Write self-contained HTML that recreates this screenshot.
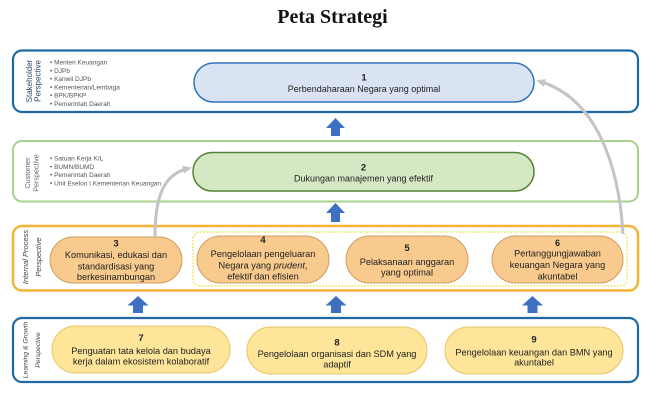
<!DOCTYPE html>
<html>
<head>
<meta charset="utf-8">
<style>
html,body{margin:0;padding:0;background:#fff;}
svg{display:block;}
text{font-family:"Liberation Sans",sans-serif;}
</style>
</head>
<body>
<svg width="661" height="414" viewBox="0 0 661 414" xmlns="http://www.w3.org/2000/svg">
<defs>
<marker id="gh" markerWidth="10" markerHeight="10" refX="5" refY="4" orient="auto" markerUnits="userSpaceOnUse">
<path d="M0,0 L9,4 L0,8 Z" fill="#c4c4c4"/>
</marker>
</defs>

<!-- Title -->
<text x="332.5" y="23" text-anchor="middle" style="font-family:'Liberation Serif',serif;font-weight:bold;font-size:20px;" fill="#111">Peta Strategi</text>

<!-- Perspective boxes -->
<rect x="13" y="50.5" width="625" height="61.5" rx="9" fill="#fff" stroke="#1f6aa5" stroke-width="2.2"/>
<rect x="13" y="141" width="625" height="60.5" rx="9" fill="#fff" stroke="#a9d18e" stroke-width="2"/>
<rect x="13" y="226" width="625" height="64.5" rx="9" fill="#fff" stroke="#f2b535" stroke-width="2.5"/>
<rect x="193" y="232" width="434" height="54" rx="7" fill="none" stroke="#f3e866" stroke-width="1.8" stroke-dasharray="1.6,1.6"/>
<rect x="13" y="318" width="625" height="64" rx="9" fill="#fff" stroke="#1f6aa5" stroke-width="2.2"/>

<!-- Vertical labels -->
<g fill="#2b4a6b" font-size="8">
<text transform="translate(32,81) rotate(-90)" text-anchor="middle">Stakeholder</text>
<text transform="translate(40.5,81) rotate(-90)" text-anchor="middle">Perspective</text>
</g>
<g fill="#666" font-size="7.2">
<text transform="translate(30,173) rotate(-90)" text-anchor="middle">Customer</text>
<text transform="translate(38.5,173) rotate(-90)" text-anchor="middle">Perspective</text>
</g>
<g fill="#444" font-size="7.5" font-style="italic">
<text transform="translate(28,257) rotate(-90)" text-anchor="middle">Internal Process</text>
<text transform="translate(41,257) rotate(-90)" text-anchor="middle">Perspective</text>
</g>
<g fill="#444" font-size="6.8" font-style="italic">
<text transform="translate(27.5,350) rotate(-90)" text-anchor="middle">Learning &amp; Growth</text>
<text transform="translate(40,350) rotate(-90)" text-anchor="middle">Perspective</text>
</g>

<!-- Lists -->
<g fill="#555" font-size="6.5">
<text x="50" y="64.5">• Menteri Keuangan</text>
<text x="50" y="72.8">• DJPb</text>
<text x="50" y="81">• Kanwil DJPb</text>
<text x="50" y="89.3">• Kementerian/Lembaga</text>
<text x="50" y="97.5">• BPK/BPKP</text>
<text x="50" y="105.8">• Pemerintah Daerah</text>
<text x="50" y="160.5">• Satuan Kerja K/L</text>
<text x="50" y="168.8">• BUMN/BUMD</text>
<text x="50" y="177">• Pemerintah Daerah</text>
<text x="50" y="185.3">• Unit Eselon I Kementerian Keuangan</text>
</g>

<!-- Nodes -->
<rect x="194" y="63" width="340" height="39" rx="19.5" fill="#dae3f3" stroke="#2e75b6" stroke-width="1.5"/>
<rect x="193" y="152.5" width="341" height="38.5" rx="19" fill="#d5e8c4" stroke="#548235" stroke-width="1.5"/>

<g fill="#f8ca8e" stroke="#cf9d5e" stroke-width="1">
<rect x="50" y="237" width="132" height="46" rx="23"/>
<rect x="197" y="236" width="132" height="47" rx="23.5"/>
<rect x="346" y="236" width="122" height="47" rx="23.5"/>
<rect x="492" y="236" width="131" height="47" rx="23.5"/>
</g>
<g fill="#fee599" stroke="#e6c566" stroke-width="1">
<rect x="52" y="326" width="178" height="47" rx="23.5"/>
<rect x="247" y="327" width="180" height="47" rx="23.5"/>
<rect x="445" y="327" width="178" height="47" rx="23.5"/>
</g>

<!-- Node text -->
<g fill="#222" text-anchor="middle">
<text x="364" y="80.5" font-size="9.5" font-weight="bold">1</text>
<text x="364" y="92" font-size="9">Perbendaharaan Negara yang optimal</text>

<text x="363.5" y="170.5" font-size="9.5" font-weight="bold">2</text>
<text x="363.5" y="181.5" font-size="9">Dukungan manajemen yang efektif</text>

<g font-size="9.2">
<text x="116" y="246.5" font-weight="bold" font-size="9.5">3</text>
<text x="116" y="258">Komunikasi, edukasi dan</text>
<text x="116" y="269.5">standardisasi yang</text>
<text x="116" y="280">berkesinambungan</text>

<text x="263" y="243" font-weight="bold" font-size="9.5">4</text>
<text x="263" y="256.8">Pengelolaan pengeluaran</text>
<text x="263" y="268.5">Negara yang <tspan font-style="italic">prudent</tspan>,</text>
<text x="263" y="279.5">efektif dan efisien</text>

<text x="407" y="251" font-weight="bold" font-size="9.5">5</text>
<text x="407" y="264.8">Pelaksanaan anggaran</text>
<text x="407" y="275.5">yang optimal</text>

<text x="557.5" y="246" font-weight="bold" font-size="9">6</text>
<text x="557.5" y="256.5">Pertanggungjawaban</text>
<text x="557.5" y="268">keuangan Negara yang</text>
<text x="557.5" y="279.5">akuntabel</text>

<text x="141" y="341" font-weight="bold" font-size="9.5">7</text>
<text x="141" y="354">Penguatan tata kelola dan budaya</text>
<text x="141" y="364.5">kerja dalam ekosistem kolaboratif</text>

<text x="337" y="345.5" font-weight="bold" font-size="9.5">8</text>
<text x="337" y="357">Pengelolaan organisasi dan SDM yang</text>
<text x="337" y="367.5">adaptif</text>

<text x="534" y="342.5" font-weight="bold" font-size="9.5">9</text>
<text x="534" y="355.3">Pengelolaan keuangan dan BMN yang</text>
<text x="534" y="365.5">akuntabel</text>
</g>
</g>

<!-- Blue up arrows -->
<g fill="#3d70c2">
<path d="M335.5,118 L345,128 L340,128 L340,136 L331,136 L331,128 L326,128 Z"/>
<path d="M335.5,203 L345,213 L340,213 L340,222 L331,222 L331,213 L326,213 Z"/>
<path d="M138,296 L148.5,305.5 L143,305.5 L143,313 L133,313 L133,305.5 L127.5,305.5 Z"/>
<path d="M336,296 L346.5,305.5 L341,305.5 L341,313 L331,313 L331,305.5 L325.5,305.5 Z"/>
<path d="M532.5,296 L543,305.5 L537.5,305.5 L537.5,313 L527.5,313 L527.5,305.5 L522,305.5 Z"/>
</g>

<!-- Gray curved connectors -->
<path d="M155,237 C155,198 163,174 188,168.5" fill="none" stroke="#c4c4c4" stroke-width="3" marker-end="url(#gh)"/>
<path d="M623,234 C619,165 596,98 540,81.5" fill="none" stroke="#c4c4c4" stroke-width="3" marker-end="url(#gh)"/>
</svg>
</body>
</html>
